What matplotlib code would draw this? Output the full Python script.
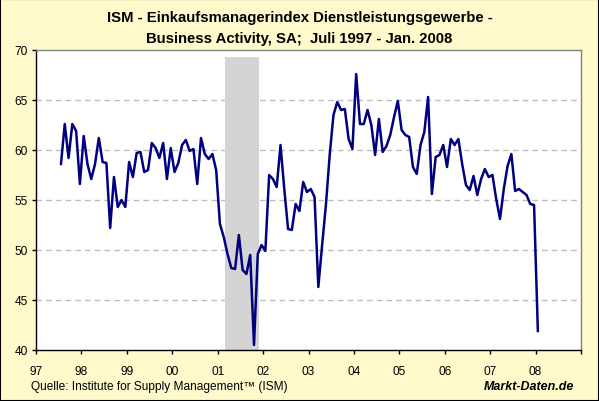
import numpy as np
import matplotlib.pyplot as plt
from matplotlib.patches import Rectangle

plt.rcParams['font.family'] = ['Liberation Sans', 'DejaVu Sans']

# ISM Services, Business Activity (SA), monthly from July 1997
start_year = 1997
start_month = 7
ism_values = [
    58.6, 62.6, 59.2, 62.6, 61.9, 56.6,                                # 1997
    61.4, 58.6, 57.1, 58.6, 61.2, 58.8, 58.7, 52.2, 57.3, 54.3, 55.0, 54.3,  # 1998
    58.8, 57.3, 59.7, 59.8, 57.8, 58.0, 60.7, 60.2, 59.2, 60.7, 57.1, 60.2,  # 1999
    57.8, 58.7, 60.5, 61.0, 59.9, 60.1, 56.6, 61.2, 59.6, 59.1, 59.6, 58.0,  # 2000
    52.6, 51.3, 49.6, 48.2, 48.1, 51.5, 48.0, 47.6, 49.5, 40.5, 49.6, 50.5,  # 2001
    49.9, 57.5, 57.1, 56.3, 60.5, 56.1, 52.1, 52.0, 54.6, 53.9, 56.8, 55.8,  # 2002
    56.1, 55.3, 46.3, 50.5, 54.5, 59.5, 63.5, 64.8, 64.0, 64.1, 61.1, 60.1,  # 2003
    67.6, 62.6, 62.6, 64.0, 62.5, 59.5, 63.1, 59.8, 60.4, 61.5, 63.3, 64.9,  # 2004
    62.0, 61.5, 61.3, 58.3, 57.6, 60.5, 61.8, 65.3, 55.6, 59.3, 59.5, 60.5,  # 2005
    58.3, 61.1, 60.5, 61.1, 58.6, 56.5, 56.0, 57.4, 55.5, 57.1, 58.1, 57.3,  # 2006
    57.5, 55.1, 53.1, 56.1, 58.4, 59.6, 55.9, 56.1, 55.8, 55.5, 54.6, 54.5,  # 2007
    41.9,                                                                  # 2008
]

# recession 2001 (March - November)
recession_start = 2001 + 2 / 12
recession_end = 2001 + 11 / 12
recession_top = 69.3

year_ticks = list(range(1997, 2010))
year_labels = ['97', '98', '99', '00', '01', '02', '03', '04', '05', '06', '07', '08', '']

title_1 = 'ISM - Einkaufsmanagerindex Dienstleistungsgewerbe -'
title_2 = 'Business Activity, SA;  Juli 1997 - Jan. 2008'
source = 'Quelle: Institute for Supply Management\u2122 (ISM)'


def month_positions(n):
    idx = np.arange(n) + (start_month - 1)
    return start_year + (idx + 0.6) / 12


fig = plt.figure(figsize=(5.99, 4.02), dpi=100, facecolor='#FFF9CC')
ax = fig.add_axes([36 / 599, 51 / 402, 545 / 599, 300 / 402])
ax.set_facecolor('white')

ax.set_xlim(1997, 2009)
ax.set_ylim(40, 70)

for yv in range(45, 70, 5):
    ax.axhline(yv, color='#BDBDBD', lw=1, ls=(0, (4, 3)), zorder=0.5)

ax.axvspan(recession_start, recession_end, ymin=0, ymax=(recession_top - 40) / 30,
           color='#D4D4D4', lw=0, zorder=1)

x = month_positions(len(ism_values))
ax.plot(x, ism_values, color='#000080', lw=1.8, zorder=3)

ax.set_xticks(year_ticks)
ax.set_xticklabels(year_labels)
ax.set_yticks(range(40, 71, 5))
ax.tick_params(direction='out', length=3, width=1, colors='black', labelsize=8.6)
ax.tick_params(axis='x', pad=8)
ax.tick_params(axis='y', pad=3)

for side in ['left', 'bottom']:
    ax.spines[side].set_color('black')
    ax.spines[side].set_linewidth(1)
for side in ['top', 'right']:
    ax.spines[side].set_color('#808080')
    ax.spines[side].set_linewidth(1)

fig.text(0.5, 1 - 18 / 402, title_1, ha='center', va='center', fontsize=10.7, fontweight='bold')
fig.text(0.5, 1 - 39 / 402, title_2, ha='center', va='center', fontsize=10.7, fontweight='bold')
fig.text(31 / 599, 1 - 387 / 402, source, ha='left', va='center', fontsize=8.6)
fig.text(574 / 599, 1 - 387 / 402, 'Markt-Daten.de', ha='right', va='center', fontsize=9,
         fontweight='bold', fontstyle='italic')

fig.patches.append(Rectangle((0, 0), 1, 1, transform=fig.transFigure, fill=False,
                             ec='black', lw=1.5))

fig.savefig('out.png', dpi=100, facecolor=fig.get_facecolor())
